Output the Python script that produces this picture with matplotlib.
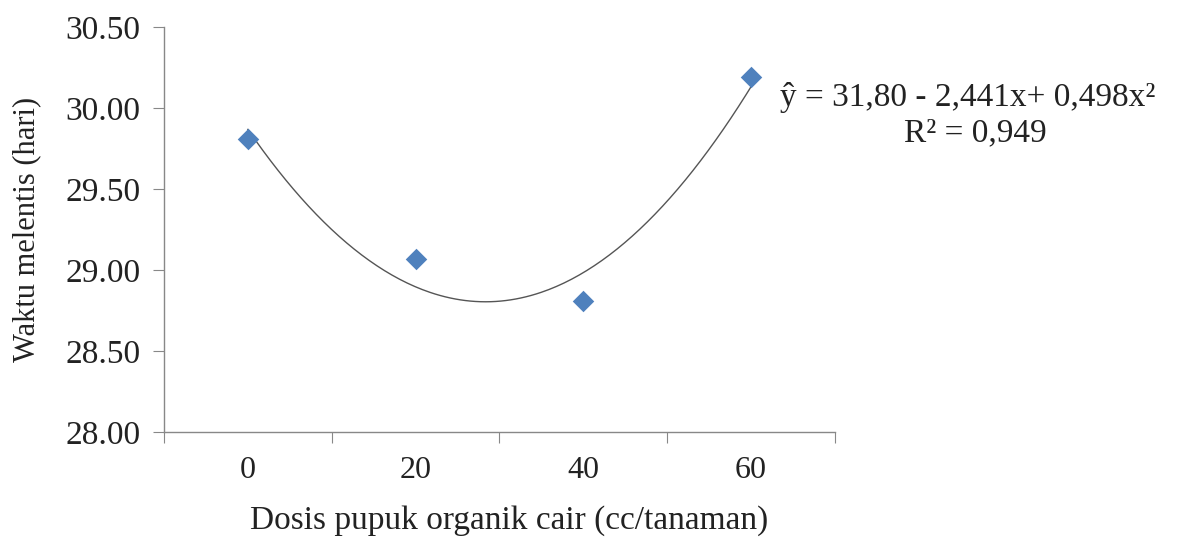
import numpy as np
import matplotlib
matplotlib.use("Agg")
import matplotlib.pyplot as plt

categories = ["0", "20", "40", "60"]
values = [29.81, 29.07, 28.81, 30.19]
yticks = [28.00, 28.50, 29.00, 29.50, 30.00, 30.50]
equation = "ŷ = 31,80 - 2,441x+ 0,498x²"
r2_text = "R² = 0,949"

plt.rcParams['font.family'] = ['Liberation Serif', 'DejaVu Serif']

fig = plt.figure(figsize=(11.85, 5.46), dpi=100)
ax = fig.add_axes([0.1384, 0.2088, 0.7046 - 0.1384, 0.9505 - 0.2088])

x = np.arange(1, len(categories) + 1)
coef = np.polyfit(x, values, 2)
xs = np.linspace(1, len(categories), 200)
ax.plot(xs, np.polyval(coef, xs), color="#555555", lw=1.0, zorder=2)
ax.scatter(x, values, marker="D", s=120, color="#4F81BD", zorder=3, linewidths=0)

ax.set_xlim(0.5, len(categories) + 0.5)
ax.set_ylim(28.0, 30.5)
ax.set_yticks(yticks)
ax.set_yticklabels([f"{v:.2f}" for v in yticks])
ax.set_xticks(np.arange(0.5, len(categories) + 1, 1.0))
ax.set_xticklabels([])
ax.set_xticks(x, minor=True)
ax.set_xticklabels(categories, minor=True)
ax.tick_params(axis="x", which="minor", length=0, pad=17, labelsize=23, labelcolor="#222222")
ax.tick_params(axis="x", which="major", length=8, direction="out", color="#888888")
ax.tick_params(axis="y", length=8, direction="out", color="#888888", labelsize=24, pad=9, labelcolor="#222222")

for s in ["top", "right"]:
    ax.spines[s].set_visible(False)
for s in ["left", "bottom"]:
    ax.spines[s].set_color("#888888")
    ax.spines[s].set_linewidth(1.0)

ax.set_ylabel("Waktu melentis (hari)", fontsize=22, color="#222222")
ax.yaxis.set_label_coords(-0.183, 0.5)
ax.set_xlabel("Dosis pupuk organik cair (cc/tanaman)", fontsize=24, color="#222222")
ax.xaxis.set_label_coords(0.515, -0.180)

fig.text(0.6580, 0.822, equation, fontsize=24, color="#222222", ha="left", va="center")
fig.text(0.8230, 0.757, r2_text, fontsize=24, color="#222222", ha="center", va="center")

fig.savefig("out.png", dpi=100)
